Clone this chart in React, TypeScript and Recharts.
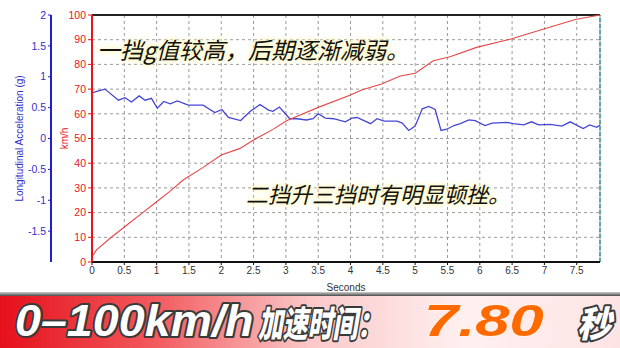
import {
    LineChart,
    Line,
    XAxis,
    YAxis,
    CartesianGrid,
    ReferenceLine,
} from "recharts"

// speed trace (km/h)
const speedTime = [0, 0.07, 0.28, 0.54, 0.77, 1.0, 1.2, 1.41, 1.72, 2.0, 2.29, 2.5, 2.8, 3.01, 3.22, 3.5, 4.0, 4.17, 4.47, 4.77, 5.0, 5.28, 5.54, 5.95, 6.47, 6.99, 7.48, 7.86]
const speedKmh = [2.1, 4.9, 9.6, 15, 19.7, 24.4, 28.5, 33.2, 38.3, 43.3, 46, 49.4, 53.7, 57.2, 59.5, 62.6, 67.6, 69.6, 72, 75.3, 76.4, 81.5, 83.1, 86.9, 90.2, 94.3, 98.2, 100]

// longitudinal acceleration trace (g)
const accelTime = [0, 0.1, 0.2, 0.41, 0.51, 0.61, 0.73, 0.82, 0.92, 1.01, 1.11, 1.21, 1.32, 1.49, 1.72, 1.9, 2.01, 2.11, 2.3, 2.45, 2.6, 2.73, 2.8, 2.9, 3.06, 3.17, 3.32, 3.42, 3.5, 3.61, 3.74, 3.92, 4.02, 4.1, 4.31, 4.41, 4.52, 4.72, 4.8, 4.9, 5.0, 5.11, 5.21, 5.31, 5.4, 5.49, 5.6, 5.7, 5.83, 5.93, 6.08, 6.19, 6.42, 6.52, 6.68, 6.8, 6.91, 7.09, 7.27, 7.4, 7.6, 7.7, 7.81, 7.86]
const accelG = [0.74, 0.77, 0.8, 0.62, 0.66, 0.59, 0.69, 0.62, 0.65, 0.49, 0.6, 0.56, 0.61, 0.54, 0.54, 0.42, 0.47, 0.34, 0.29, 0.44, 0.55, 0.46, 0.44, 0.51, 0.32, 0.32, 0.3, 0.32, 0.4, 0.33, 0.32, 0.27, 0.33, 0.34, 0.24, 0.32, 0.28, 0.28, 0.25, 0.13, 0.2, 0.48, 0.52, 0.47, 0.13, 0.15, 0.21, 0.24, 0.3, 0.29, 0.21, 0.25, 0.26, 0.24, 0.22, 0.27, 0.22, 0.23, 0.2, 0.27, 0.16, 0.22, 0.18, 0.22]

const secondTicks = [0, 0.5, 1, 1.5, 2, 2.5, 3, 3.5, 4, 4.5, 5, 5.5, 6, 6.5, 7, 7.5]
const kmhTicks = [0, 10, 20, 30, 40, 50, 60, 70, 80, 90, 100]
const gTicks = [-1.5, -1, -0.5, 0, 0.5, 1, 1.5, 2]
const endTime = 7.86

const note1 = "一挡g值较高，后期逐渐减弱。"
const note2 = "二挡升三挡时有明显顿挫。"

const speedData = speedTime.map((t, i) => ({ t, v: speedKmh[i] }))
const accelData = accelTime.map((t, i) => ({ t, g: accelG[i] }))

const axisFont = "'Liberation Sans', Arial, sans-serif"
const cjkFont = "'Noto Sans CJK SC', sans-serif"

const glow = "0 0 2px #fffbd0, 0 0 4px #fff6b8, 0 0 6px #fff6b8, 0 0 8px #fffbe0"

export default function App() {
    return (
        <div
            style={{
                position: "absolute",
                left: 0,
                top: 0,
                width: 620,
                height: 348,
                background: "#fff",
                overflow: "hidden",
            }}
        >
            <LineChart
                width={620}
                height={292}
                margin={{ top: 15, right: 20, bottom: 0, left: 0 }}
            >
                <CartesianGrid
                    yAxisId="kmh"
                    stroke="#9a9a9a"
                    strokeDasharray="3 3"
                />

                <XAxis
                    dataKey="t"
                    type="number"
                    domain={[0, endTime]}
                    ticks={secondTicks}
                    allowDataOverflow
                    height={30}
                    axisLine={{ stroke: "#111", strokeWidth: 2 }}
                    tickLine={{ stroke: "#111" }}
                    tickSize={3}
                    tick={{ fill: "#333", fontSize: 10, fontFamily: axisFont }}
                    label={{
                        value: "Seconds",
                        position: "insideBottom",
                        offset: 1,
                        fill: "#333",
                        fontSize: 10,
                        fontFamily: axisFont,
                    }}
                />

                <YAxis
                    yAxisId="kmh"
                    orientation="left"
                    width={41}
                    domain={[0, 100]}
                    ticks={kmhTicks}
                    axisLine={{ stroke: "#e8141c", strokeWidth: 2 }}
                    tickLine={{ stroke: "#e8141c" }}
                    tickSize={4}
                    tickMargin={2}
                    tick={{ fill: "#e8141c", fontSize: 10.5, fontFamily: axisFont }}
                    label={{
                        value: "km/h",
                        angle: -90,
                        position: "insideLeft",
                        offset: 13,
                        fill: "#e8141c",
                        fontSize: 10,
                        fontFamily: axisFont,
                        style: { textAnchor: "middle" },
                    }}
                />

                <YAxis
                    yAxisId="lonG"
                    orientation="left"
                    width={51}
                    domain={[-2, 2]}
                    ticks={gTicks}
                    axisLine={{ stroke: "#2020d0", strokeWidth: 2 }}
                    tickLine={{ stroke: "#2020d0" }}
                    tickSize={3}
                    tickMargin={2}
                    tick={{ fill: "#3030c8", fontSize: 10.5, fontFamily: axisFont }}
                    label={{
                        value: "Longitudinal Acceleration (g)",
                        angle: -90,
                        position: "insideLeft",
                        offset: 19,
                        fill: "#3030c8",
                        fontSize: 10,
                        fontFamily: axisFont,
                        style: { textAnchor: "middle" },
                    }}
                />

                <ReferenceLine yAxisId="kmh" y={100} stroke="#222" strokeWidth={2} />
                <ReferenceLine
                    yAxisId="kmh"
                    x={endTime}
                    stroke="#2f8f8f"
                    strokeWidth={1.5}
                    strokeDasharray="4 2"
                />

                <Line
                    yAxisId="lonG"
                    data={accelData}
                    dataKey="g"
                    type="linear"
                    stroke="#4646d6"
                    strokeWidth={1.3}
                    dot={false}
                    isAnimationActive={false}
                />
                <Line
                    yAxisId="kmh"
                    data={speedData}
                    dataKey="v"
                    type="linear"
                    stroke="#e84646"
                    strokeWidth={1.1}
                    dot={false}
                    isAnimationActive={false}
                />
            </LineChart>

            <div
                style={{
                    position: "absolute",
                    left: 97,
                    top: 37,
                    fontFamily: cjkFont,
                    fontSize: 23,
                    lineHeight: "25px",
                    fontStyle: "italic",
                    color: "#111",
                    whiteSpace: "nowrap",
                    textShadow: glow,
                }}
            >
                {note1}
            </div>
            <div
                style={{
                    position: "absolute",
                    left: 246,
                    top: 182,
                    fontFamily: cjkFont,
                    fontSize: 22,
                    lineHeight: "23px",
                    fontStyle: "italic",
                    color: "#111",
                    whiteSpace: "nowrap",
                    textShadow: glow,
                }}
            >
                {note2}
            </div>

            <svg
                width={620}
                height={56}
                style={{ position: "absolute", left: 0, top: 292 }}
            >
                <defs>
                    <linearGradient id="band" x1="0" x2="1" y1="0" y2="0">
                        <stop offset="0" stopColor="#e5101a" />
                        <stop offset="0.25" stopColor="#f25a5e" />
                        <stop offset="0.5" stopColor="#fbc8c8" />
                        <stop offset="0.75" stopColor="#fff0f0" />
                        <stop offset="1" stopColor="#fde4e4" />
                    </linearGradient>
                    <linearGradient id="edge" x1="0" x2="0" y1="0" y2="1">
                        <stop offset="0" stopColor="#cfcfcf" />
                        <stop offset="1" stopColor="#4a4a4a" />
                    </linearGradient>
                </defs>
                <rect x={0} y={4} width={620} height={52} fill="url(#band)" />
                <rect x={0} y={0} width={620} height={4} fill="url(#edge)" />
                <g
                    stroke="#3a3a3a"
                    strokeWidth={4}
                    strokeLinejoin="round"
                    paintOrder="stroke"
                    fontWeight={900}
                    fontStyle="italic"
                >
                    <text
                        transform="translate(15 44) scale(1.06 1)"
                        fontSize={44}
                        fontFamily={axisFont}
                        fill="#fff"
                    >
                        0–100km/h
                    </text>
                    <text
                        transform="translate(258 45) scale(0.69 1)"
                        fontSize={36}
                        fontFamily={cjkFont}
                        fill="#fff"
                    >
                        加速时间：
                    </text>
                    <text
                        transform="translate(424 44) scale(1.4 1)"
                        fontSize={44}
                        fontFamily={axisFont}
                        fill="#ff6a00"
                        stroke="#fff3e8"
                        strokeWidth={1.5}
                    >
                        7.80
                    </text>
                    <text
                        transform="translate(577 45) scale(0.95 1)"
                        fontSize={36}
                        fontFamily={cjkFont}
                        fill="#fff"
                    >
                        秒
                    </text>
                </g>
            </svg>
        </div>
    )
}
